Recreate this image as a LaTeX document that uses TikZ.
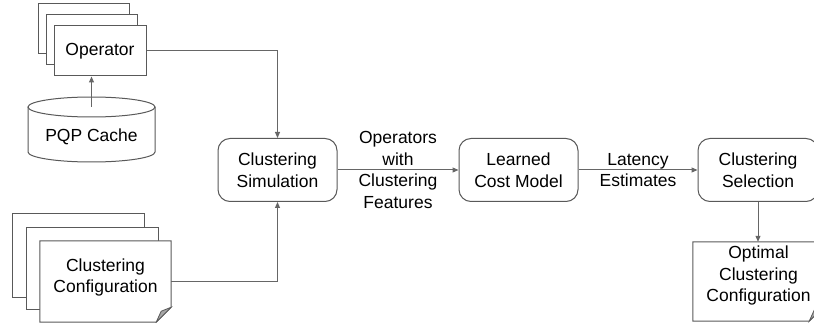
\documentclass[tikz,border=0pt]{standalone}
\usepackage{fontspec}
\setmainfont{Liberation Sans}
\usetikzlibrary{arrows.meta}
\definecolor{bord}{HTML}{595959}
\definecolor{arr}{HTML}{666666}
\definecolor{foldc}{HTML}{A6A6A6}
\begin{document}
\begin{tikzpicture}[x=1pt,y=-1pt,
  every node/.style={font=\fontsize{17.5}{21.5}\selectfont, text=black},
  box/.style={draw=bord, line width=1pt, fill=white, rounded corners=12pt,
    minimum width=119pt, minimum height=63pt, align=center, inner sep=0pt},
  sheet/.style={draw=bord, line width=1pt, fill=white},
  docbox/.style={draw=none, minimum width=131pt, minimum height=80pt, inner sep=0pt},
  lbl/.style={align=center, inner sep=0pt},
  conn/.style={draw=arr, line width=1pt, -{Triangle[length=6pt,width=5pt]}}]
\useasboundingbox (0,0) rectangle (814,323);
\clip (0,0) rectangle (814,323);

% Operator stack
\draw[sheet] (38,4) rectangle (129,54);
\draw[sheet] (46,15) rectangle (137,65);
\node[sheet, minimum width=92pt, minimum height=50pt, inner sep=0pt] (op) at (100,51) {Operator};

% PQP cache cylinder
\draw[sheet] (28,107) -- (28,152) arc[start angle=180, end angle=360, x radius=63.5pt, y radius=10pt] -- (155,107);
\draw[sheet] (91.5,107) ellipse[x radius=63.5pt, y radius=10pt];
\coordinate (cachetop) at (91.5,107);
\node[lbl] (cache) at (91.5,136.5) {PQP Cache};

% Clustering configuration stack
\draw[sheet] (12,214) rectangle (144,297);
\draw[sheet] (26,228) rectangle (158,309);
\node[docbox, minimum height=81pt] (cc) at (105.5,281.5) {};
\draw[sheet] (cc.north west) -- (cc.north east) -- ([yshift=15pt]cc.south east)
  -- ([xshift=-15pt]cc.south east) -- (cc.south west) -- cycle;
\draw[draw=bord, fill=foldc, line width=0.8pt] ([yshift=15pt]cc.south east)
  -- ([xshift=-15pt]cc.south east) -- ([xshift=-10pt,yshift=11pt]cc.south east) -- cycle;
\node[lbl] (cctext) at ([yshift=4pt]cc.center) {Clustering\\Configuration};

% Main boxes
\node[box] (cs) at (277.5,170) {Clustering\\Simulation};
\node[box] (lcm) at (518.5,170) {Learned\\Cost Model};
\node[box, minimum width=120pt] (sel) at (758,170) {Clustering\\Selection};

% Optimal configuration
\node[docbox, minimum height=79pt] (opt) at (758.5,281.5) {};
\draw[sheet] (opt.north west) -- (opt.north east) -- ([yshift=15pt]opt.south east)
  -- ([xshift=-15pt]opt.south east) -- (opt.south west) -- cycle;
\draw[draw=bord, fill=foldc, line width=0.8pt] ([yshift=15pt]opt.south east)
  -- ([xshift=-15pt]opt.south east) -- ([xshift=-10pt,yshift=11pt]opt.south east) -- cycle;
\node[lbl] (opttext) at ([yshift=6pt]opt.center) {Optimal\\Clustering\\Configuration};

% Connectors
\draw[conn] (cachetop) -- (cachetop |- op.south);
\draw[conn] (op.east) -| (cs.north);
\draw[conn] (cc.east) -| (cs.south);
\draw[conn] (cs) -- node[lbl] (l1) {Operators\\with\\Clustering\\Features} (lcm);
\draw[conn] (lcm) -- node[lbl] (l2) {Latency\\Estimates} (sel);
\draw[conn] (sel.south) -- (sel.south |- opt.north);
\end{tikzpicture}
\end{document}
